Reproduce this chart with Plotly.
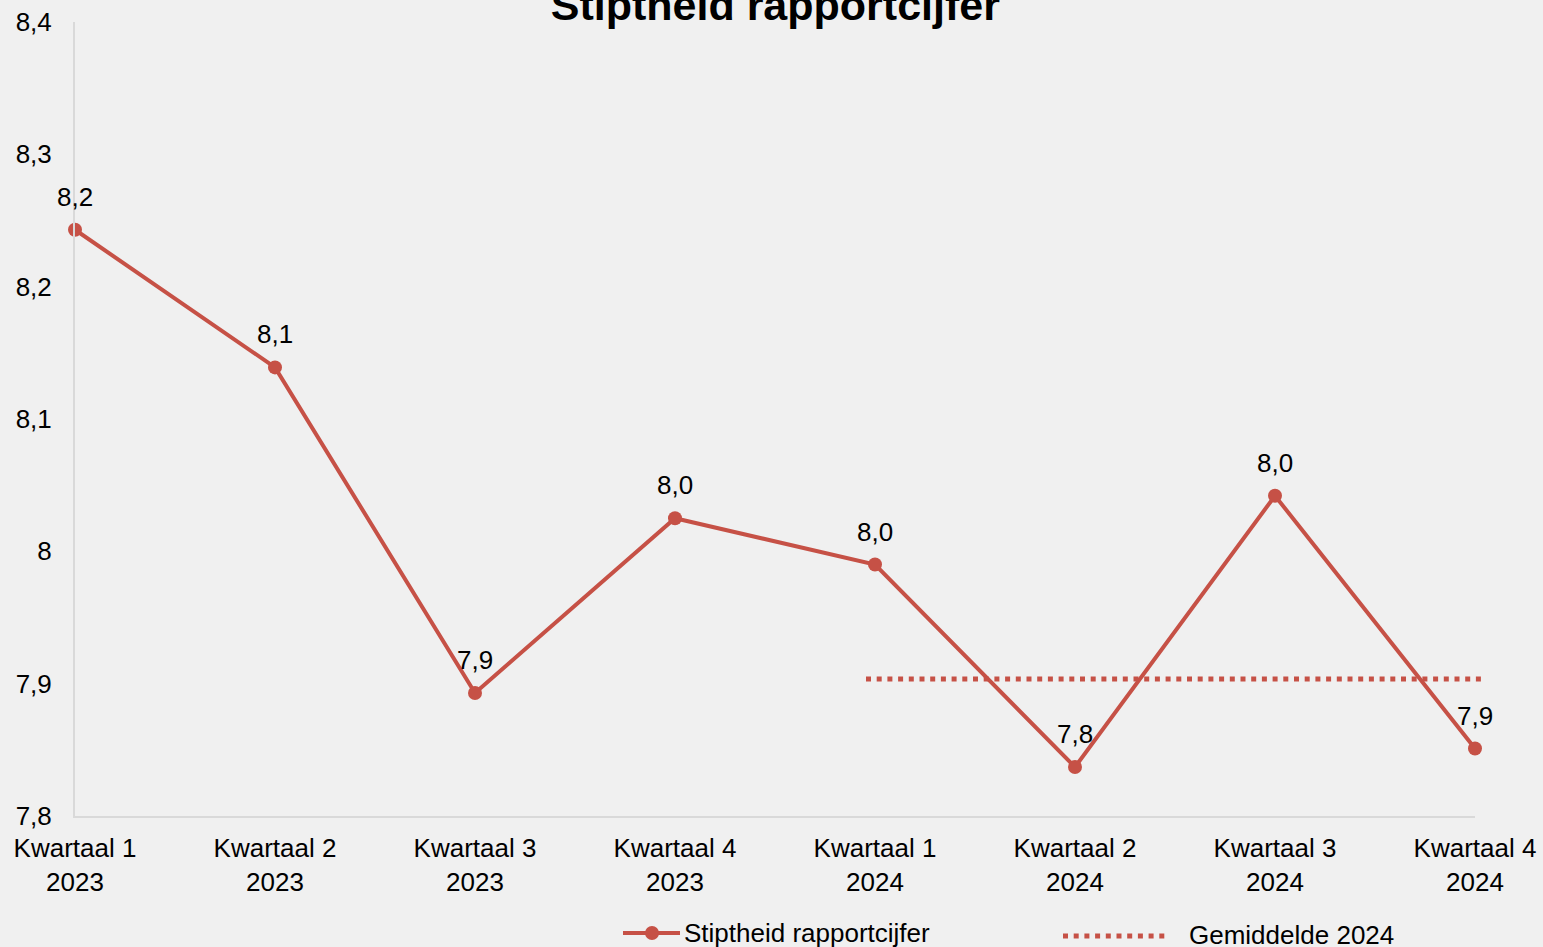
import plotly.graph_objects as go

categories = ["Kwartaal 1<br>2023", "Kwartaal 2<br>2023", "Kwartaal 3<br>2023", "Kwartaal 4<br>2023",
              "Kwartaal 1<br>2024", "Kwartaal 2<br>2024", "Kwartaal 3<br>2024", "Kwartaal 4<br>2024"]
scores = [8.243, 8.139, 7.893, 8.025, 7.990, 7.837, 8.042, 7.851]
avg_2024 = 7.9035
y_tickvals = [7.8, 7.9, 8.0, 8.1, 8.2, 8.3, 8.4]
y_ticktext = ["7,8", "7,9", "8", "8,1", "8,2", "8,3", "8,4"]
series_name = "Stiptheid rapportcijfer"
avg_name = "Gemiddelde 2024"

RED = "#C65146"
FONT = "Liberation Sans, Arial, sans-serif"
W, H = 1543, 947
ML, MR, MT, MB = 75, 53, 22, 131
PW, PH = W - ML - MR, H - MT - MB
AXW = 1400  # pixel width of the category axis
DOM = AXW / PW


def px(xp):
    return (xp - ML) / PW


def py(yp):
    return (H - MB - yp) / PH


xs = list(range(len(categories)))
n = len(categories) - 1
i_start = categories.index("Kwartaal 1<br>2024")
i_end = categories.index("Kwartaal 4<br>2024")

fig = go.Figure()
fig.add_trace(go.Scatter(
    x=[i_start - 0.045, i_end + 0.057], y=[avg_2024, avg_2024], mode="lines",
    name=avg_name, line=dict(color=RED, width=5, dash="5px,5.7px"),
    xaxis="x2", showlegend=False, hoverinfo="skip",
))
fig.add_trace(go.Scatter(
    x=xs, y=scores, mode="lines+markers", name=series_name,
    line=dict(color=RED, width=4), marker=dict(color=RED, size=14),
    cliponaxis=False, showlegend=False, hoverinfo="skip",
))

for x, v in zip(xs, scores):
    fig.add_annotation(x=x, y=v, text=f"{v:.1f}".replace(".", ","), showarrow=False,
                       yshift=33, font=dict(family=FONT, size=26, color="#000000"))

# manual legend (matches the wide legend samples of the reference)
fig.add_shape(type="line", xref="paper", yref="paper", x0=px(623), x1=px(680), y0=py(933), y1=py(933),
              line=dict(color=RED, width=4))
fig.add_shape(type="circle", xref="paper", yref="paper", x0=px(645), x1=px(659), y0=py(940), y1=py(926),
              line=dict(color=RED, width=0), fillcolor=RED)
fig.add_annotation(xref="paper", yref="paper", x=px(682), y=py(933), xanchor="left", yanchor="middle",
                   text=series_name, showarrow=False, font=dict(family=FONT, size=26, color="#000000"))
fig.add_shape(type="line", xref="paper", yref="paper", x0=px(1063), x1=px(1168), y0=py(936), y1=py(936),
              line=dict(color=RED, width=5, dash="5px,5.7px"))
fig.add_annotation(xref="paper", yref="paper", x=px(1187), y=py(935), xanchor="left", yanchor="middle",
                   text=avg_name, showarrow=False, font=dict(family=FONT, size=26, color="#000000"))

fig.update_layout(
    width=W, height=H,
    paper_bgcolor="#F0F0F0", plot_bgcolor="rgba(0,0,0,0)",
    margin=dict(l=ML, r=MR, t=MT, b=MB, autoexpand=False),
    font=dict(family=FONT, size=26, color="#000000"),
    title=dict(text="<b>Stiptheid rapportcijfer</b>", x=0.5025, xanchor="center",
               y=0.9952, yanchor="middle", font=dict(family=FONT, size=43, color="#000000")),
    showlegend=False,
    hovermode=False,
    xaxis=dict(domain=[0, DOM], range=[0, n], tickvals=xs, ticktext=categories,
               showgrid=False, zeroline=False, showline=True, linecolor="#D9D9D9", linewidth=2,
               ticks="outside", ticklen=8, tickcolor="rgba(0,0,0,0)", automargin=False,
               tickfont=dict(family=FONT, size=26, color="#000000")),
    xaxis2=dict(domain=[0, 1], range=[0, n / DOM], anchor="y", visible=False,
                showgrid=False, zeroline=False),
    yaxis=dict(range=[7.8, 8.4], tickvals=y_tickvals, ticktext=y_ticktext,
               showgrid=False, zeroline=False, showline=True, linecolor="#D9D9D9", linewidth=2,
               ticks="outside", ticklen=16, tickcolor="rgba(0,0,0,0)", automargin=False,
               tickfont=dict(family=FONT, size=26, color="#000000")),
)

fig.write_html("out.html", config={"displayModeBar": False},
               post_script="document.body.style.margin='0';document.body.style.overflow='hidden';")
